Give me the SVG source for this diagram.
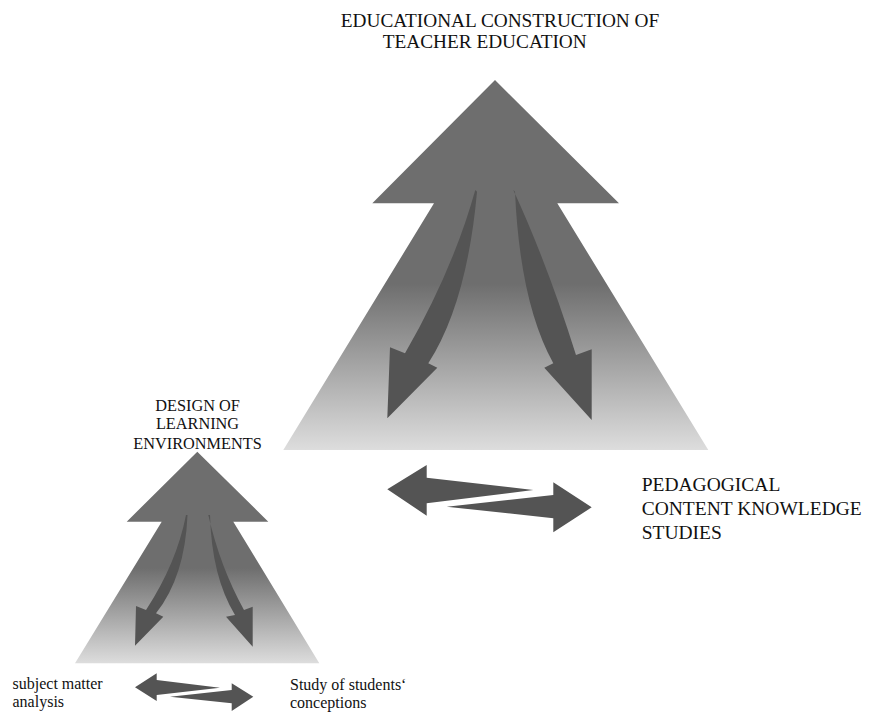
<svg xmlns="http://www.w3.org/2000/svg" width="870" height="713" viewBox="0 0 870 713">
<defs>
<linearGradient id="g" x1="0" y1="0" x2="0" y2="1">
<stop offset="0" stop-color="#6e6e6e"/>
<stop offset="0.55" stop-color="#6e6e6e"/>
<stop offset="1" stop-color="#dddddd"/>
</linearGradient>
</defs>
<style>
.shape{fill:url(#g)}
.arr{fill:#545454}
.t{font-family:"Liberation Serif","Times New Roman",serif;fill:#111}
</style>
<rect width="870" height="713" fill="#fff"/>
<g id="big">
<polygon class="shape" points="495,80 619,203.3 557.3,203.3 708.3,450 283.3,450 434,203.3 372.3,203.3"/>
</g>
<g id="small">
<polygon class="shape" points="197.3,451.7 268.3,521.7 233.3,521.7 319.3,663.3 75,663.3 161.7,521.7 126.7,521.7"/>
</g>
<g id="connectors">
<path class="arr" d="M475.3,190 Q453,270 405,353.3 L390,347.3 L387.3,418.3 L437.3,367.7 L428.3,363.3 Q467,303 477,191.7 Z"/>
<path class="arr" d="M513.3,190 Q547,263 576,355 L591.7,349.3 L591.7,420 L544.3,367.7 L553.3,363.3 Q520,303 515,191.7 Z"/>
<path class="arr" d="M186,515 Q176.7,563 146,610 L136,606 L135,645.7 L163.3,616.7 L156,613.3 Q185,576.7 187.5,515 Z"/>
<path class="arr" d="M208.3,515 Q220,566.7 244,610 L252.7,606.7 L252.7,646.7 L226,616.7 L235,615 Q211.7,576.7 210,515 Z"/>
<polygon class="arr" points="387.3,489.3 426.7,465 426.7,477.7 533.3,490 426.7,503.3 426.7,515.7"/>
<polygon class="arr" points="446.7,506.7 553.3,495 553.3,482.3 591.7,507.3 553.3,532.3 553.3,518.3"/>
<polygon class="arr" points="135,687.3 156.7,673.3 156.7,680 220,687.7 156.7,695 156.7,701"/>
<polygon class="arr" points="170,696.7 231.7,690 231.7,683.3 253.3,696.7 231.7,711 231.7,703.3"/>
</g>
<g id="labels">
<text class="t" font-size="19.3" text-anchor="middle" x="500" y="27">EDUCATIONAL CONSTRUCTION OF</text>
<text class="t" font-size="19.3" text-anchor="middle" x="484.7" y="48">TEACHER EDUCATION</text>
<text class="t" font-size="19.5" x="641.7" y="491">PEDAGOGICAL</text>
<text class="t" font-size="19.5" x="641.7" y="515">CONTENT KNOWLEDGE</text>
<text class="t" font-size="19.5" x="641.7" y="538.5">STUDIES</text>
<text class="t" font-size="16.3" text-anchor="middle" x="197.5" y="410.5">DESIGN OF</text>
<text class="t" font-size="16.3" text-anchor="middle" x="197.5" y="429">LEARNING</text>
<text class="t" font-size="16.3" text-anchor="middle" x="197.5" y="449">ENVIRONMENTS</text>
<text class="t" font-size="16" x="12.5" y="689">subject matter</text>
<text class="t" font-size="16" x="12.5" y="707">analysis</text>
<text class="t" font-size="16" x="290" y="690">Study of students‘</text>
<text class="t" font-size="16" x="290" y="708">conceptions</text>
</g>
</svg>
